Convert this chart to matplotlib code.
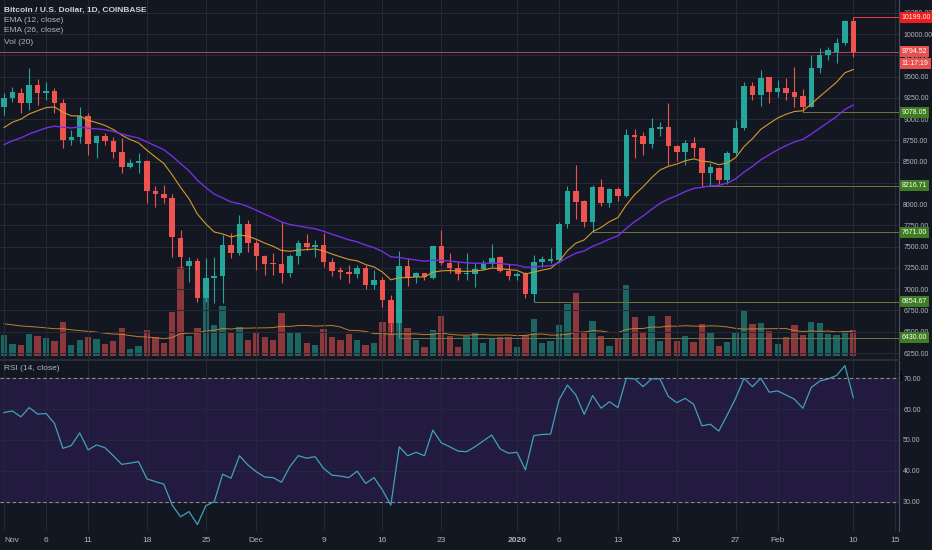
import numpy as np
import matplotlib.pyplot as plt

# daily candles, Nov 1 2019 .. Feb 10 2020 (BTC/USD, Coinbase)
opens = [9146, 9243, 9302, 9192, 9400, 9310, 9333, 9184, 8753, 8792,
         9035, 8714, 8804, 8746, 8616, 8440, 8479, 8503, 8157, 8118,
         8067, 7598, 7277, 7331, 6893, 7128, 7155, 7520, 7422, 7762,
         7547, 7390, 7310, 7296, 7194, 7390, 7539, 7500, 7520, 7324,
         7226, 7206, 7178, 7245, 7049, 7108, 6873, 6607, 7277, 7139,
         7186, 7128, 7508, 7304, 7245, 7178, 7178, 7237, 7296, 7382,
         7218, 7155, 7178, 6944, 7324, 7330, 7343, 7766, 8158, 8041,
         7794, 8197, 8009, 8174, 8096, 8813, 8801, 8707, 8879, 8903,
         8683, 8617, 8722, 8656, 8370, 8421, 8284, 8598, 8892, 9389,
         9283, 9499, 9322, 9369, 9319, 9271, 9146, 9605, 9754, 9793,
         9891, 10157]
highs = [9302, 9380, 9361, 9596, 9467, 9439, 9361, 9231, 8871, 9145,
         9067, 8812, 8832, 8785, 8773, 8526, 8597, 8520, 8213, 8225,
         8115, 7700, 7382, 7363, 7363, 7382, 7637, 7657, 7872, 7813,
         7578, 7404, 7422, 7794, 7414, 7578, 7649, 7578, 7657, 7363,
         7265, 7284, 7284, 7284, 7225, 7147, 6932, 7449, 7363, 7206,
         7186, 7508, 7696, 7421, 7323, 7421, 7304, 7343, 7531, 7390,
         7292, 7206, 7206, 7402, 7390, 7480, 7794, 8213, 8460, 8049,
         8225, 8291, 8186, 8197, 8879, 8879, 8852, 9008, 8969, 9193,
         8695, 8754, 8785, 8675, 8480, 8440, 8620, 8990, 9440, 9440,
         9577, 9499, 9460, 9479, 9616, 9350, 9754, 9832, 9851, 9949,
         10165, 10199]
lows = [9047, 9204, 9067, 9106, 9165, 9224, 9067, 8655, 8694, 8714,
        8577, 8538, 8694, 8538, 8361, 8420, 8361, 8008, 7969, 8017,
        7381, 7246, 7089, 6853, 6853, 6834, 6834, 7363, 7402, 7441,
        7226, 7167, 7167, 7077, 7139, 7296, 7461, 7382, 7257, 7155,
        7116, 7069, 7128, 6998, 6998, 6795, 6481, 6430, 7038, 7069,
        7108, 7116, 7284, 7186, 7108, 7108, 7030, 7225, 7265, 7206,
        7108, 7108, 6893, 6854.67, 7265, 7304, 7324, 7715, 7821, 7735,
        7671, 7978, 7962, 8041, 8088, 8538, 8577, 8656, 8801, 8460,
        8511, 8460, 8550, 8216.71, 8230, 8240, 8240, 8578, 8872, 9224,
        9154, 9185, 9264, 9224, 9138, 9078.05, 9138, 9538, 9695, 9656,
        9871, 9726]
closes = [9243, 9314, 9192, 9400, 9310, 9333, 9184, 8753, 8792, 9035,
          8706, 8804, 8746, 8616, 8440, 8479, 8503, 8157, 8118, 8067,
          7609, 7382, 7331, 6893, 7128, 7155, 7520, 7422, 7762, 7547,
          7390, 7296, 7296, 7186, 7390, 7539, 7492, 7520, 7324, 7214,
          7202, 7178, 7245, 7049, 7108, 6873, 6607, 7277, 7139, 7186,
          7139, 7508, 7304, 7245, 7178, 7186, 7237, 7296, 7370, 7218,
          7155, 7178, 6944, 7324, 7351, 7351, 7766, 8158, 8029, 7794,
          8197, 8009, 8174, 8096, 8813, 8785, 8707, 8891, 8903, 8683,
          8617, 8722, 8656, 8370, 8433, 8284, 8598, 8892, 9389, 9283,
          9487, 9322, 9369, 9303, 9264, 9146, 9605, 9754, 9812, 9898,
          10157, 9794.52]
# volume, thousand BTC
volumes = [10.4, 5.9, 5.5, 10.9, 10.0, 8.9, 7.7, 16.9, 5.5, 8.0,
           9.4, 8.4, 6.0, 7.5, 14.2, 3.4, 5.2, 13.0, 9.7, 6.7,
           22.2, 44.4, 10.2, 14.0, 29.4, 15.7, 25.2, 11.4, 14.4, 8.2,
           11.4, 9.4, 8.2, 21.7, 11.9, 12.2, 6.7, 5.5, 13.4, 9.4,
           7.8, 11.1, 8.0, 5.5, 6.3, 17.2, 16.6, 16.3, 13.8, 8.0,
           4.6, 13.0, 20.0, 10.2, 4.3, 10.2, 11.3, 6.3, 8.8, 9.3,
           9.3, 4.3, 10.6, 18.6, 6.4, 7.7, 15.5, 26.0, 31.4, 12.2,
           17.7, 10.0, 5.2, 8.9, 35.5, 19.7, 12.2, 20.2, 7.5, 20.2,
           7.5, 10.0, 7.2, 15.9, 11.3, 4.8, 7.0, 12.0, 22.9, 15.9,
           16.7, 12.4, 5.9, 9.5, 15.4, 10.7, 17.0, 16.5, 11.2, 10.4,
           12.4, 12.9]
rsi = [58.9, 59.4, 57.5, 60.5, 58.4, 58.6, 55.4, 47.3, 48.2, 52.3,
       46.8, 48.4, 47.5, 44.9, 42.1, 42.5, 43.0, 37.4, 36.5, 35.7,
       28.9, 25.1, 26.8, 22.6, 28.7, 30.0, 38.9, 37.6, 44.9, 41.9,
       39.7, 38.0, 37.8, 36.3, 41.4, 44.9, 44.1, 44.6, 40.8, 38.6,
       38.3, 37.8, 39.9, 35.9, 37.8, 33.8, 28.9, 47.8, 44.9, 46.0,
       44.9, 53.2, 49.1, 47.8, 46.4, 46.2, 47.8, 49.7, 51.6, 47.1,
       45.7, 46.0, 40.3, 51.4, 51.8, 51.9, 63.0, 67.8, 64.6, 58.3,
       64.4, 60.3, 62.4, 60.5, 70.0, 69.8, 67.3, 69.8, 69.8, 64.1,
       62.1, 63.5, 61.6, 54.6, 55.1, 52.9, 58.1, 63.5, 70.0, 67.3,
       70.0, 65.5, 65.9, 64.6, 63.2, 60.3, 67.0, 69.1, 69.8, 70.9,
       74.1, 63.7]

# indicator values carried in from October
ema12_start = 8900
ema26_start = 8700
vol_before = 16.4

tick_days = [0, 5, 10, 17, 24, 30, 38, 45, 52, 61, 66, 73, 80, 87, 92, 101, 106]
tick_labels = ['Nov', '6', '11', '18', '25', 'Dec', '9', '16', '23', '2020',
               '6', '13', '20', '27', 'Feb', '10', '15']

levels = [9078.05, 8216.71, 7671.00, 6854.67, 6430.00]
level_from = [95, 83, 70, 63, 47]
day_high = 10199.00
last_price = 9794.52
countdown = '11:17:19'

plt.rcParams['font.family'] = ['Liberation Sans', 'DejaVu Sans']

bg = '#131722'
grid_c = '#262a35'
txt_c = '#b2b5be'
up_c = '#26a69a'
dn_c = '#ef5350'
fs = 5.0

o = np.array(opens, float)
h = np.array(highs, float)
l = np.array(lows, float)
c = np.array(closes, float)
v = np.array(volumes, float)
x = np.arange(len(c))
up = c >= o

# EMAs
def ema(vals, n, start):
    a = 2.0 / (n + 1)
    out = [start]
    for val in vals[1:]:
        out.append(a * val + (1 - a) * out[-1])
    return np.array(out)

ema12 = ema(c, 12, ema12_start)
ema26 = ema(c, 26, ema26_start)
padded = np.concatenate([np.full(19, vol_before), v])
vol_ma = np.convolve(padded, np.ones(20) / 20, mode='valid')

fig = plt.figure(figsize=(9.32, 5.5), dpi=100, facecolor=bg)
rect_main = [0, 190 / 550, 899 / 932, 360 / 550]
axv = fig.add_axes(rect_main)
ax = fig.add_axes(rect_main, sharex=axv)
axr = fig.add_axes([0, 19 / 550, 899 / 932, 170 / 550], sharex=axv)

xlim = (-0.476, 106.43)

# volume underneath
axv.set_facecolor(bg)
axv.bar(x, v, width=0.75, color=np.where(up, up_c, dn_c), alpha=0.55, linewidth=0)
axv.plot(x, vol_ma, color='#d4882f', lw=0.7, alpha=0.9)
axv.set_ylim(-2, 178)
axv.set_xlim(*xlim)
axv.set_xticks([])
axv.set_yticks([])
for s in axv.spines.values():
    s.set_visible(False)

# price
ax.patch.set_visible(False)
ax.set_xlim(*xlim)
ax.set_ylim(6168, 10400)
ax.set_xticks(tick_days)
ax.tick_params(axis='x', labelbottom=False, length=0)
ax.set_yticks(np.arange(6250, 10251, 250))
ax.yaxis.tick_right()
ax.yaxis.set_major_formatter(plt.FormatStrFormatter('%.2f'))
ax.tick_params(axis='y', colors=txt_c, labelsize=fs, length=0, pad=3)
ax.grid(True, color=grid_c, lw=0.7)
ax.set_axisbelow(True)
for s in ['top', 'left']:
    ax.spines[s].set_visible(False)
ax.spines['right'].set_color('#4a4e5a')
ax.spines['bottom'].set_color('#2a2e39')
ax.spines['bottom'].set_linewidth(1.5)

col = np.where(up, up_c, dn_c)
ax.vlines(x, l, h, colors=col, lw=0.8, zorder=3)
body = np.maximum(np.abs(c - o), 10)
ax.bar(x, body, bottom=np.minimum(o, c), width=0.66, color=col, linewidth=0, zorder=4)

ax.plot(x, ema12, color='#d49a2a', lw=0.8, zorder=5)
ax.plot(x, ema26, color='#7430e0', lw=1.0, zorder=5)

# horizontal levels
ax.axhline(last_price, color='#b6416a', lw=0.7, zorder=2)
ax.hlines(day_high, x[-1], xlim[1], color='#f23645', lw=0.7, zorder=2)
for lv, i0 in zip(levels, level_from):
    ax.hlines(lv, i0, xlim[1], color='#75733c', lw=0.7, zorder=2)

ytr = ax.get_yaxis_transform()
box_kw = dict(va='center', ha='left', fontsize=fs, color='white', transform=ytr, zorder=10)
ax.text(1.003, day_high, '%.2f' % day_high,
        bbox=dict(boxstyle='square,pad=0.3', fc='#f01c1c', ec='none'), **box_kw)
ax.text(1.003, last_price, '%.2f' % last_price,
        bbox=dict(boxstyle='square,pad=0.3', fc='#e8504e', ec='none'), **box_kw)
ax.annotate(countdown, (1.003, last_price), xycoords=ytr, xytext=(0, -8.5),
            textcoords='offset points', va='center', ha='left', fontsize=fs,
            color='white', bbox=dict(boxstyle='square,pad=0.3', fc='#e8504e', ec='none'),
            annotation_clip=False)
for lv in levels:
    ax.text(1.003, lv, '%.2f' % lv,
            bbox=dict(boxstyle='square,pad=0.3', fc='#3f7d22', ec='none'), **box_kw)

# RSI pane
axr.set_facecolor(bg)
axr.set_xlim(*xlim)
axr.set_ylim(20.5, 75.6)
axr.axhspan(30, 70, color='#231a40', zorder=0)
axr.axhline(70, color='#8a8d96', lw=0.8, ls=(0, (3, 2.5)), zorder=2)
axr.axhline(30, color='#8a8d96', lw=0.8, ls=(0, (3, 2.5)), zorder=2)
axr.plot(x, rsi, color='#3ea3b8', lw=0.9, zorder=3)
axr.set_yticks([30, 40, 50, 60, 70])
axr.yaxis.tick_right()
axr.yaxis.set_major_formatter(plt.FormatStrFormatter('%.2f'))
axr.tick_params(axis='y', colors=txt_c, labelsize=fs, length=0, pad=3)
axr.set_xticks(tick_days)
axr.set_xticklabels(tick_labels)
axr.tick_params(axis='x', colors=txt_c, labelsize=6, length=0, pad=4)
xlabs = axr.get_xticklabels()
xlabs[0].set_horizontalalignment('left')
for lab in xlabs:
    if lab.get_text() == '2020':
        lab.set_fontweight('bold')
axr.grid(True, color=grid_c, lw=0.7)
axr.set_axisbelow(True)
for s in ['top', 'left', 'bottom']:
    axr.spines[s].set_visible(False)
axr.spines['right'].set_color('#4a4e5a')

# pane titles
W, H = 932, 550
fig.text(4 / W, 1 - 10 / H, 'Bitcoin / U.S. Dollar, 1D, COINBASE', fontsize=6,
         color='#d1d4dc', va='center', fontweight='bold')
fig.text(4 / W, 1 - 21 / H, 'EMA (12, close)', fontsize=6, color=txt_c, va='center')
fig.text(4 / W, 1 - 31 / H, 'EMA (26, close)', fontsize=6, color=txt_c, va='center')
fig.text(4 / W, 1 - 42 / H, 'Vol (20)', fontsize=6, color=txt_c, va='center')
fig.text(4 / W, 1 - 369 / H, 'RSI (14, close)', fontsize=6, color=txt_c, va='center')

fig.savefig('out.png', dpi=100, facecolor=bg)
